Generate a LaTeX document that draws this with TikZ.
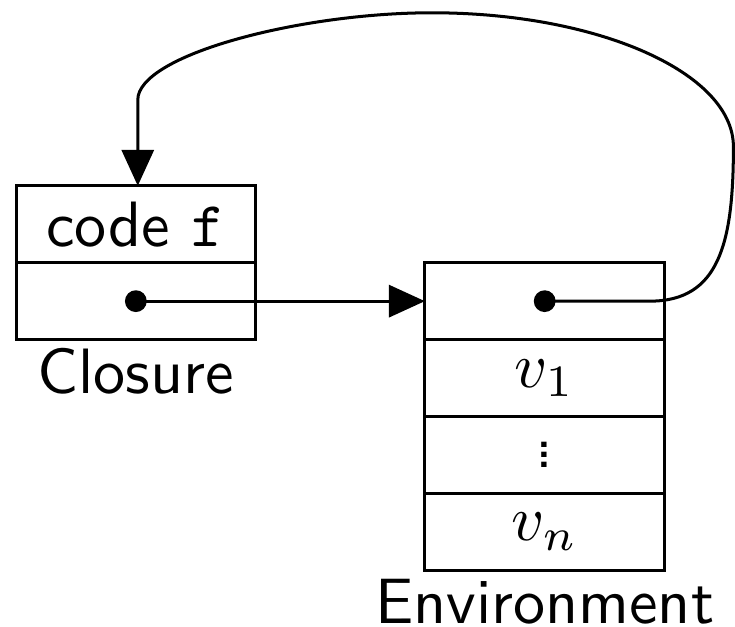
\documentclass[tikz,border=0pt]{standalone}
\usepackage{amsmath}
\usepackage{tikz}
\usetikzlibrary{positioning}
\usetikzlibrary{arrows.meta}

\newcommand{\smallvdots}{\vbox{\baselineskip=1.56pt\lineskiplimit=-10pt\hbox{.}\hbox{.}\hbox{.}}}

\tikzset{
	cell/.style={draw, minimum width=37.4pt, minimum height=12pt, inner sep=0pt, outer sep=0pt, font=\sffamily},
	caption/.style={inner sep=0pt, font=\sffamily},
	ptr/.style={-{Triangle[length=5.6pt,width=5pt]}, line width=0.47pt},
	dot/.style={circle, fill, inner sep=0pt, minimum size=3.4pt}
}

\begin{document}
\begin{tikzpicture}[line width=0.47pt]
		\useasboundingbox (0,0) rectangle (114.7pt,-97.8pt);
		% closure
		\node[cell] (clcode) at (21.2pt,-35pt) {code \texttt{f}};
		\node[cell, below=0pt of clcode] (clenv) {};
		\node[caption, below=1.1pt of clenv] (cllabel) {Closure};
		% environment
		\node[cell] (envptr) at (85pt,-47pt) {};
		\node[cell, below=0pt of envptr] (envv1) {$v_1$};
		\node[cell, below=0pt of envv1] (envdots) {\smallvdots};
		\node[cell, below=0pt of envdots] (envvn) {$v_n$};
		\node[caption, below=1.1pt of envvn] (envlabel) {Environment};
		% pointers
		\node[dot] (cldot) at (clenv.center) {};
		\node[dot] (envdot) at (envptr.center) {};
		\draw[ptr] (cldot.center) -- (envptr.west);
		\coordinate (bend) at (101.4pt,-47pt);
		\draw[ptr] (envdot.center) -- (bend)
			.. controls (112.2pt,-47pt) and (114.45pt,-38pt) .. (114.45pt,-22.9pt)
			.. controls (114.45pt,-11.4pt) and (93.4pt,-2pt) .. (67.4pt,-2pt)
			.. controls (46.8pt,-2pt) and (21.5pt,-8.6pt) .. (21.5pt,-15.6pt)
			-- (21.5pt,0 |- clcode.north);
	\end{tikzpicture}
\end{document}
